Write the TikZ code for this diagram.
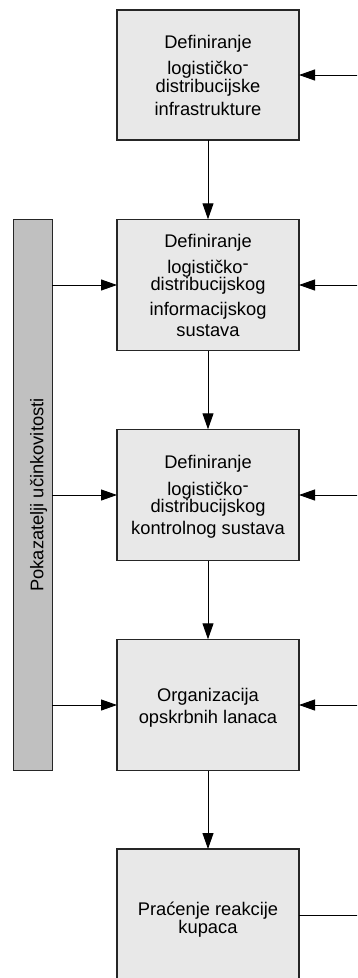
\documentclass[tikz,border=0pt]{standalone}
\usepackage{fontspec}
\setmainfont{Liberation Sans}
\usetikzlibrary{arrows.meta}
\definecolor{boxfill}{HTML}{E8E8E8}
\definecolor{barfill}{HTML}{C0C0C0}
\definecolor{edge}{HTML}{262626}
\begin{document}
\begin{tikzpicture}[x=1pt,y=-1pt,
  box/.style={draw=edge, line width=1.2pt, fill=boxfill, minimum width=182pt,
    inner sep=0pt, outer sep=0pt, align=center,
    font=\fontsize{18.3}{18}\selectfont, text depth=0pt},
  bar/.style={draw=edge, line width=1.2pt, fill=barfill, rotate=90,
    minimum width=551.4pt, minimum height=39pt, inner sep=0pt, outer sep=0pt,
    font=\fontsize{18.3}{18}\selectfont, text height=21pt, text depth=0pt},
  conn/.style={line width=0.9pt, draw=black, -{Triangle[length=16pt,width=11pt]}},
  plain/.style={line width=0.9pt, draw=black}]
\useasboundingbox (0,0) rectangle (357,978);
\clip (0,0) rectangle (357,978);
\newcommand\hyph{\raisebox{3.6pt}{-}}
\node[box, minimum height=130pt, text height=80pt] (b1) at (208,75)
  {Definiranje\\[8pt] logističko\hyph\\[0.4pt] distribucijske\\[4.3pt] infrastrukture};
\node[box, minimum height=131.4pt, text height=102pt] (b2) at (208,285)
  {Definiranje\\[7.6pt] logističko\hyph\\[-1.3pt] distribucijskog\\[7pt] informacijskog\\[3pt] sustava};
\node[box, minimum height=131.4pt, text height=78.6pt] (b3) at (208,495)
  {Definiranje\\[8.7pt] logističko\hyph\\[-0.3pt] distribucijskog\\[3.6pt] kontrolnog sustava};
\node[box, minimum height=131.4pt, text height=36.6pt] (b4) at (208,705)
  {Organizacija\\[3.6pt] opskrbnih lanaca};
\node[box, minimum height=132pt, text height=36.6pt] (b5) at (208,915)
  {Praćenje reakcije\\[0.3pt] kupaca};
\node[bar] (pk) at (32.8,495) {Pokazatelji učinkovitosti};
\coordinate (r1) at (360,75);
\coordinate (r2) at (360,285);
\coordinate (r3) at (360,495);
\coordinate (r4) at (360,705);
\coordinate (r5) at (360,915);
\draw[conn] (b1.south) -- (b2.north);
\draw[conn] (b2.south) -- (b3.north);
\draw[conn] (b3.south) -- (b4.north);
\draw[conn] (b4.south) -- (b5.north);
\draw[conn] (r1) -- (b1.east);
\draw[conn] (r2) -- (b2.east);
\draw[conn] (r3) -- (b3.east);
\draw[conn] (r4) -- (b4.east);
\draw[plain] (b5.east) -- (r5);
\draw[conn] (pk.south |- b2.west) -- (b2.west);
\draw[conn] (pk.south |- b3.west) -- (b3.west);
\draw[conn] (pk.south |- b4.west) -- (b4.west);
\end{tikzpicture}
\end{document}
